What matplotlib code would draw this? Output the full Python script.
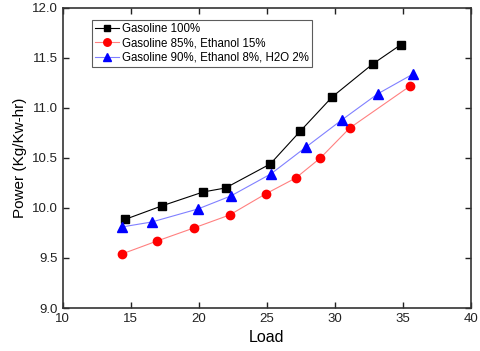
import matplotlib
matplotlib.use('Agg')
import matplotlib.pyplot as plt

plt.rcParams['font.family'] = ['Liberation Sans', 'DejaVu Sans']

# Gasoline 100%
load_g = [14.6, 17.26, 20.32, 21.96, 25.25, 27.47, 29.8, 32.79, 34.83]
pow_g = [9.887, 10.02, 10.16, 10.20, 10.44, 10.77, 11.11, 11.44, 11.63]

# Gasoline 85%, Ethanol 15%
load_e = [14.34, 16.93, 19.63, 22.26, 24.9, 27.13, 28.94, 31.1, 35.54]
pow_e = [9.54, 9.67, 9.80, 9.93, 10.14, 10.30, 10.50, 10.80, 11.22]

# Gasoline 90%, Ethanol 8%, H2O 2%
load_w = [14.34, 16.54, 19.93, 22.35, 25.29, 27.89, 30.51, 33.14, 35.76]
pow_w = [9.81, 9.86, 9.99, 10.12, 10.34, 10.61, 10.88, 11.14, 11.34]

fig = plt.figure(figsize=(4.8, 3.51), dpi=100)
ax = fig.add_axes([0.131, 0.1225, 0.85, 0.855])

ax.plot(load_g, pow_g, color='black', marker='s', ms=5.5, lw=0.8, label='Gasoline 100%')
ax.plot(load_e, pow_e, color='#ff8080', marker='o', ms=6, mfc='red', mec='red', lw=0.8,
        label='Gasoline 85%, Ethanol 15%')
ax.plot(load_w, pow_w, color='#8080ff', marker='^', ms=6.5, mfc='blue', mec='blue', lw=0.8,
        label='Gasoline 90%, Ethanol 8%, H2O 2%')

ax.set_xlim(10, 40)
ax.set_ylim(9.0, 12.0)
ax.set_xticks([10, 15, 20, 25, 30, 35, 40])
ax.set_yticks([9.0, 9.5, 10.0, 10.5, 11.0, 11.5, 12.0])
ax.set_yticklabels(['9.0', '9.5', '10.0', '10.5', '11.0', '11.5', '12.0'])
ax.tick_params(direction='in', top=True, right=True, labelsize=9.5, length=4, width=1, colors='#222222')
for s in ax.spines.values():
    s.set_linewidth(1.2)
    s.set_color('#333333')

ax.set_xlabel('Load', fontsize=11.5)
ax.set_ylabel('Power (Kg/Kw-hr)', fontsize=11)

leg = ax.legend(loc='upper left', bbox_to_anchor=(0.071, 0.96), borderaxespad=0, fontsize=8.3,
                frameon=True, fancybox=False, edgecolor='#333333', handlelength=2.1,
                borderpad=0.25, labelspacing=0.22, handletextpad=0.3, markerscale=0.9)
leg.get_frame().set_linewidth(0.8)

fig.savefig('out.png', dpi=100)
